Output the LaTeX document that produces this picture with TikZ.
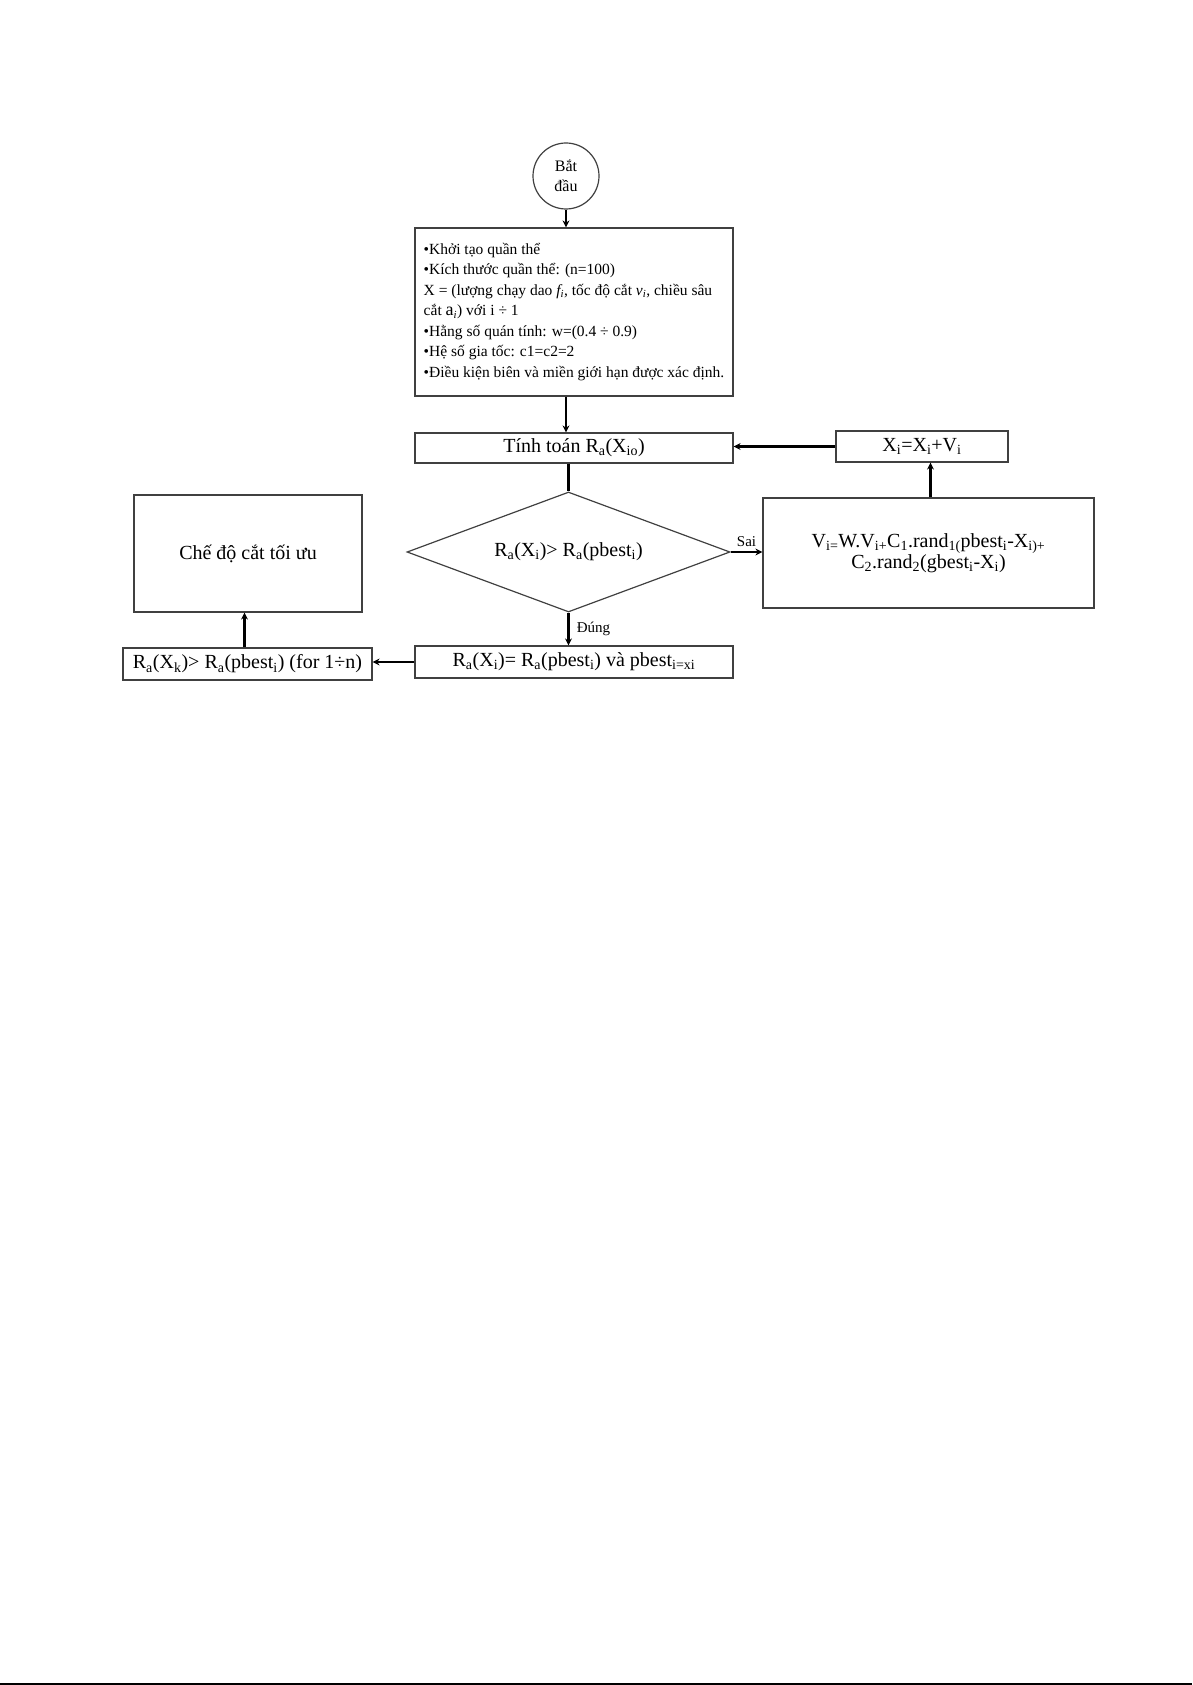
\documentclass[tikz,border=0pt]{standalone}
\usepackage{fontspec}
\setmainfont{Liberation Serif}
\usetikzlibrary{shapes.geometric,arrows.meta}
\tikzset{
  box/.style={draw=black!75,line width=1.2pt,rectangle,inner sep=3pt,align=center,font=\fontsize{20}{22}\selectfont},
  conn/.style={draw=black,line width=2.6pt},
  arr/.style={conn,-{Stealth[length=7pt,width=7pt]}},
  lbl/.style={font=\fontsize{15}{17}\selectfont,inner sep=1pt}
}
\begin{document}
\begin{tikzpicture}[x=1pt,y=-1pt]
\useasboundingbox (0,0) rectangle (1192,1685);
% nodes
\node[draw=black!75,line width=1.2pt,circle,minimum size=66pt,inner sep=0pt,align=center,font=\fontsize{16}{20}\selectfont] (start) at (566,176) {Bắt\\đầu};
\node[box,minimum width=318pt,minimum height=168pt,align=left,font=\fontsize{15.5}{20.5}\selectfont] (init) at (574,312)
 {•Khởi tạo quần thể\\
  •Kích thước quần thể: (n=100)\\
  X = (lượng chạy dao \textit{f\textsubscript{i}}, tốc độ cắt \textit{v\textsubscript{i}}, chiều sâu\\
  cắt {\fontsize{18}{20.5}\selectfont a}\textsubscript{\textit{i}}) với i ÷ 1\\
  •Hằng số quán tính: w=(0.4 ÷ 0.9)\\
  •Hệ số gia tốc: c1=c2=2\\
  •Điều kiện biên và miền giới hạn được xác định.};
\node[box,minimum width=318pt,minimum height=30pt] (tinh) at (574,448) {Tính toán R\textsubscript{a}(X\textsubscript{io})};
\node[draw=black!75,line width=1.2pt,diamond,shape aspect=2.6917,minimum width=323pt,minimum height=120pt,inner sep=0pt,font=\fontsize{20}{22}\selectfont] (dia) at (568.5,552) {R\textsubscript{a}(X\textsubscript{i})> R\textsubscript{a}(pbest\textsubscript{i})};
\node[box,minimum width=318pt,minimum height=32pt] (upd) at (574,662) {R\textsubscript{a}(X\textsubscript{i})= R\textsubscript{a}(pbest\textsubscript{i}) và pbest\textsubscript{i=xi}};
\node[box,minimum width=249pt,minimum height=32pt] (cmp) at (247.5,664) {R\textsubscript{a}(X\textsubscript{k})> R\textsubscript{a}(pbest\textsubscript{i}) (for 1÷n)};
\node[box,minimum width=228pt,minimum height=117pt] (opt) at (248,553.5) {Chế độ cắt tối ưu};
\node[box,minimum width=331pt,minimum height=110pt,font=\fontsize{20}{18}\selectfont] (vbox) at (928.5,553) {V\textsubscript{i=}W.V\textsubscript{i+}C\textsubscript{1}.rand\textsubscript{1(}pbest\textsubscript{i}-X\textsubscript{i)+}\\C\textsubscript{2}.rand\textsubscript{2}(gbest\textsubscript{i}-X\textsubscript{i})};
\node[box,minimum width=172pt,minimum height=31pt] (xi) at (922,446.5) {X\textsubscript{i}=X\textsubscript{i}+V\textsubscript{i}};
% connectors
\draw[arr] (start.south) -- (start.south |- init.north);
\draw[arr] (init.south -| start) -- (start |- tinh.north);
\draw[conn] (tinh.south -| dia) -- (dia.north);
\draw[arr] (dia.south) -- (dia.south |- upd.north) node[lbl,midway,right=6pt] {Đúng};
\draw[arr] (dia.east) -- (vbox.west |- dia.east) node[lbl,midway,above=3pt] {Sai};
\draw[arr] ([xshift=2pt]vbox.north) -- ([xshift=2pt]vbox.north |- xi.south);
\draw[arr] (xi.west) -- (xi.west -| tinh.east);
\draw[arr] (upd.west) -- (upd.west -| cmp.east);
\draw[arr] ([xshift=-3pt]cmp.north) -- ([xshift=-3pt]cmp.north |- opt.south);
% page edge line
\draw[line width=2pt] (0,1684) -- (1192,1684);
\end{tikzpicture}
\end{document}
